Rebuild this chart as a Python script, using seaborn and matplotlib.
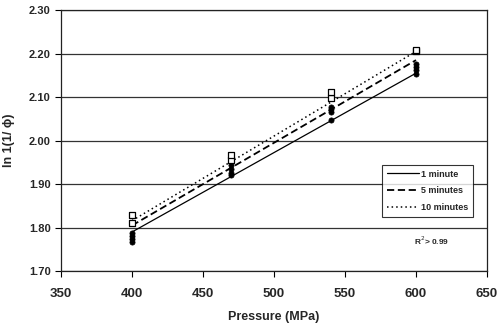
import numpy as np
import pandas as pd
import matplotlib
matplotlib.use("Agg")
import matplotlib.pyplot as plt
import seaborn as sns

# Data
pressures = [400, 470, 540, 600]
series = ["1 minute", "5 minutes", "10 minutes"]
pts_1min_a = [1.775, 1.925, 2.048, 2.152]
pts_1min_b = [1.768, 1.920, 2.066, 2.163]
pts_5min_a = [1.788, 1.935, 2.072, 2.170]
pts_5min_b = [1.781, 1.945, 2.078, 2.175]
pts_10min_a = [1.811, 1.955, 2.098, 2.205]
pts_10min_b = [1.829, 1.968, 2.112, 2.208]
fit_x = [400, 600]
fit_1min = [1.790, 2.155]
fit_5min = [1.805, 2.185]
fit_10min = [1.816, 2.205]
x_ticks = [350, 400, 450, 500, 550, 600, 650]
y_ticks = [1.70, 1.80, 1.90, 2.00, 2.10, 2.20, 2.30]

sns.set_style("white")
plt.rcParams['font.family'] = ['Liberation Sans', 'DejaVu Sans']

fig = plt.figure(figsize=(5, 3.36), dpi=100)
ax = fig.add_axes([0.122, 0.193, 0.852, 0.777])

# points
filled = pd.DataFrame({
    "p": pressures * 4,
    "v": pts_1min_a + pts_1min_b + pts_5min_a + pts_5min_b,
})
hollow = pd.DataFrame({
    "p": pressures * 2,
    "v": pts_10min_a + pts_10min_b,
})

# lines
fits = pd.DataFrame({
    "p": fit_x * 3,
    "v": fit_1min + fit_5min + fit_10min,
    "s": [series[0]] * 2 + [series[1]] * 2 + [series[2]] * 2,
})
dashes = {series[0]: None, series[1]: (4, 2), series[2]: (1, 2)}
widths = {series[0]: 0.9, series[1]: 1.3, series[2]: 1.1}
for s in series:
    sub = fits[fits.s == s]
    sns.lineplot(data=sub, x="p", y="v", ax=ax, color="black",
                 lw=widths[s], label=s, zorder=2)
    if dashes[s] is not None:
        ax.lines[-1].set_dashes(dashes[s])

sns.scatterplot(data=filled, x="p", y="v", ax=ax, color="black", marker="o",
                s=14, edgecolor="black", linewidth=0.5, legend=False, zorder=3)
sns.scatterplot(data=hollow, x="p", y="v", ax=ax, marker="s",
                s=13, facecolor="white", edgecolor="black", linewidth=0.9,
                legend=False, zorder=3)

ax.set_xlim(350, 650)
ax.set_ylim(1.70, 2.30)
ax.set_xticks(x_ticks)
ax.set_yticks(y_ticks)
ax.set_xticklabels([str(t) for t in x_ticks], fontsize=9.5, fontweight="bold")
ax.set_yticklabels([f"{t:.2f}" for t in y_ticks], fontsize=8, fontweight="bold")
ax.tick_params(axis="both", direction="out", length=4, width=0.8, color="black",
               bottom=True, left=True)
ax.tick_params(axis="x", pad=8)
ax.yaxis.grid(True, color="#333333", lw=0.9)
ax.xaxis.grid(False)
for sp in ax.spines.values():
    sp.set_color("#222222")
    sp.set_linewidth(0.9)

ax.set_xlabel("Pressure (MPa)", fontsize=9, fontweight="bold", labelpad=8)
ax.set_ylabel("ln 1(1/ ϕ)", fontsize=9, fontweight="bold", labelpad=10)

leg = ax.legend(loc="upper left", bbox_to_anchor=(0.753, 0.408), frameon=True,
                fancybox=False, edgecolor="black", borderaxespad=0,
                prop={"weight": "bold", "size": 6.5}, handlelength=3.6,
                handletextpad=0.2, borderpad=0.55, labelspacing=0.85)
leg.get_frame().set_linewidth(0.8)

ax.text(0.87, 0.115, "R$^{2}$> 0.99", transform=ax.transAxes, fontsize=6,
        fontweight="bold", ha="center", va="center")

fig.savefig("out.png", dpi=100, facecolor="white")
